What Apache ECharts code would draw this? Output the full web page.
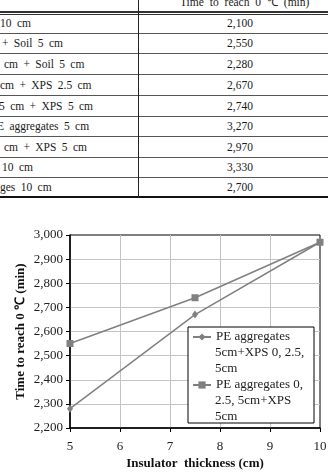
<!DOCTYPE html>
<html>
<head>
<meta charset="utf-8">
<script src="https://cdn.jsdelivr.net/npm/echarts@6/dist/echarts.min.js"></script>
<style>
  body { margin: 0; width: 328px; height: 472px; overflow: hidden; background: #fff; position: relative; font-family: 'Liberation Serif', 'Times New Roman', serif; color: #1a1a1a; }
  .hl { position: absolute; left: 0; width: 328px; height: 1px; background: #555; }
  .vl { position: absolute; left: 138px; top: 0; width: 1px; height: 198px; background: #222; }
  .cell { position: absolute; font-size: 11.5px; line-height: 14px; word-spacing: 2.5px; white-space: nowrap; }
  .val { width: 120px; left: 180px; text-align: center; word-spacing: 0; }
  #chart { position: absolute; left: 0; top: 200px; width: 328px; height: 272px; }
</style>
</head>
<body>
<div id="table"></div>
<div id="chart"></div>
<script>
// table rows (left column is cut off in the source picture)
var rowLabels = ['10 cm', '+ Soil 5 cm', 'cm + Soil 5 cm', 'cm + XPS 2.5 cm', '5 cm + XPS 5 cm',
  'E aggregates 5 cm', 'cm + XPS 5 cm', '10 cm', 'ges 10 cm'];
var rowValues = ['2,100', '2,550', '2,280', '2,670', '2,740', '3,270', '2,970', '3,330', '2,700'];
var headerText = 'Time to reach 0 \u2103 (min)';

// chart data
var thickness = [5, 7.5, 10];
var seriesNames = ['PE aggregates\n5cm+XPS 0, 2.5,\n5cm', 'PE aggregates 0,\n2.5, 5cm+XPS\n5cm'];
var xpsVaried = [2280, 2670, 2970];
var peVaried = [2550, 2740, 2970];

// build table
var rowTops = [12.7, 32.7, 53.3, 74, 95, 116, 136, 157, 177, 197];
var labelLeft = [0, 2, 4, 0, -1, -3, 4, 2, 0];
var t = document.getElementById('table');
var html = '<div class="cell val" style="top:-5px;word-spacing:3px;">' + headerText + '</div>';
html += '<div class="hl" style="top:11px;height:1.5px;background:#333"></div>';
html += '<div class="hl" style="top:13.5px;height:1px;background:#333"></div>';
for (var i = 0; i < rowLabels.length; i++) {
  var mid = (rowTops[i] + rowTops[i + 1]) / 2;
  html += '<div class="cell" style="left:' + labelLeft[i] + 'px;top:' + (mid - 7) + 'px">' + rowLabels[i] + '</div>';
  html += '<div class="cell val" style="top:' + (mid - 7) + 'px">' + rowValues[i] + '</div>';
  if (i < rowLabels.length - 1) html += '<div class="hl" style="top:' + rowTops[i + 1] + 'px"></div>';
}
html += '<div class="hl" style="top:196px;height:2px;background:#111"></div>';
html += '<div class="vl"></div>';
t.innerHTML = html;

var font = "'Liberation Serif', 'Times New Roman', serif";

// legend: first line of each name in the legend, the rest as plain text under it
var legendLine = 16;
var legendTop = 129;
var legendGap = 32;
var extraLines = seriesNames.map(function (n, i) {
  return {
    type: 'text', z: 5, x: 215, y: legendTop + i * (legendLine + legendGap) + legendLine,
    style: { text: n.split('\n').slice(1).join('\n'), font: '13px ' + font, fill: '#222',
      lineHeight: legendLine, verticalAlign: 'top' }
  };
});

var chart = echarts.init(document.getElementById('chart'));
var option = {
  animation: false,
  textStyle: { fontFamily: font },
  grid: { left: 70, right: 8, top: 35, bottom: 44, outerBoundsMode: 'none', containLabel: false,
    show: true, borderColor: '#000', borderWidth: 1, backgroundColor: 'transparent' },
  xAxis: {
    type: 'value', min: 5, max: 10, interval: 1,
    name: 'Insulator  thickness (cm)', nameLocation: 'middle', nameGap: 29, nameMoveOverlap: false,
    nameTextStyle: { fontFamily: font, fontWeight: 'bold', fontSize: 13, color: '#111' },
    axisLine: { lineStyle: { color: '#000', width: 1.5 } },
    axisTick: { show: true, length: 4, lineStyle: { color: '#000' } },
    axisLabel: { margin: 12, fontFamily: font, fontSize: 13, color: '#222' },
    splitLine: { show: true, showMinLine: false, showMaxLine: false, lineStyle: { color: '#c4c4c4' } }
  },
  yAxis: {
    type: 'value', min: 2200, max: 3000, interval: 100,
    name: 'Time to reach 0 \u2103 (min)', nameLocation: 'middle', nameGap: 43, nameMoveOverlap: false,
    nameTextStyle: { fontFamily: font, fontWeight: 'bold', fontSize: 13, color: '#111' },
    axisLine: { show: true, lineStyle: { color: '#000', width: 1.5 } },
    axisTick: { show: true, length: 4, lineStyle: { color: '#000' } },
    axisLabel: { margin: 7, fontFamily: font, fontSize: 13, color: '#222',
      formatter: function (v) { return v.toLocaleString('en-US'); } },
    splitLine: { show: true, showMinLine: false, showMaxLine: false, lineStyle: { color: '#c4c4c4' } }
  },
  legend: {
    orient: 'vertical', left: 192, top: legendTop, z: 6,
    padding: 0, itemWidth: 18, itemHeight: 9, itemGap: legendGap,
    textStyle: { fontFamily: font, fontSize: 13, color: '#222', lineHeight: legendLine },
    formatter: function (name) { return name.split('\n')[0]; },
    data: seriesNames
  },
  graphic: [
    { type: 'rect', z: 3, shape: { x: 188, y: 127, width: 126, height: 96 },
      style: { fill: '#fff', stroke: '#000', lineWidth: 1 } }
  ].concat(extraLines),
  series: [
    {
      name: seriesNames[0], type: 'line', symbol: 'diamond', symbolSize: [6, 8],
      color: '#808080', lineStyle: { width: 1.5, color: '#808080' },
      data: thickness.map(function (x, i) { return [x, xpsVaried[i]]; })
    },
    {
      name: seriesNames[1], type: 'line', symbol: 'rect', symbolSize: 7,
      color: '#808080', lineStyle: { width: 1.5, color: '#808080' },
      data: thickness.map(function (x, i) { return [x, peVaried[i]]; })
    }
  ]
};
chart.setOption(option);
</script>
</body>
</html>
